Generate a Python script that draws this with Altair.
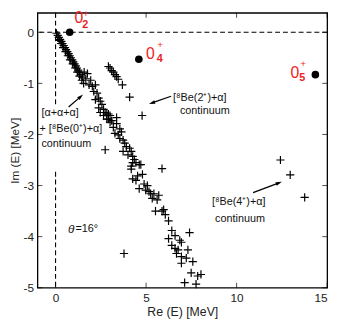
import altair as alt
import pandas as pd

# ---------------- data ----------------
cross_re = [
    # dense rotated continuum near origin
    0.05, 0.12, 0.18, 0.25, 0.32, 0.38, 0.45, 0.52, 0.58, 0.65, 0.72, 0.78, 0.85, 0.92, 0.98, 1.05,
    1.12, 1.18, 1.25, 1.32, 1.40, 1.48,
    0.20, 0.30, 0.42, 0.55, 0.68, 0.80, 0.95, 1.08, 1.20, 1.32, 1.45, 1.55,
    # band 1.5 - 3
    1.58, 1.76, 1.67, 1.94, 1.85, 2.03, 2.20, 2.11, 2.29, 2.38, 2.20, 2.47, 2.56, 2.38, 2.65, 2.74,
    2.83, 3.01, 2.92, 2.65, 3.10, 2.47,
    # band 2.6 - 4.7
    2.65, 2.92, 3.37, 2.83, 3.01, 3.37, 3.19, 3.55, 3.28, 3.46, 3.64, 3.55, 3.73, 3.82, 3.91, 4.09,
    3.73, 4.18, 4.00, 4.26, 4.35, 4.44, 4.18, 4.71,
    # band 4.2 - 6.1
    4.26, 4.62, 4.18, 4.80, 4.53, 4.26, 4.44, 4.89, 5.07, 4.62, 4.98, 5.16, 5.25, 5.43, 5.70, 5.34,
    5.61, 5.52, 5.88, 6.06, 5.97,
    # band 6.2 - 8
    6.24, 6.42, 6.60, 6.24, 6.86, 6.95, 7.40, 6.42, 6.60, 6.77, 6.68, 7.31, 6.95, 7.22, 6.95, 7.58,
    7.49, 7.85, 8.03, 7.13, 7.76,
    # 8Be(2+)+alpha branch
    2.92, 3.01, 3.10, 3.19, 3.28, 3.37, 3.46, 3.69, 4.09, 4.78,
    # isolated
    2.74, 5.88, 3.78,
    # 8Be(4+)+alpha
    12.42, 12.96, 13.76,
]
cross_im = [
    -0.02, -0.06, -0.10, -0.14, -0.18, -0.22, -0.26, -0.30, -0.34, -0.38, -0.42, -0.46, -0.50, -0.54, -0.58, -0.62,
    -0.66, -0.70, -0.74, -0.78, -0.83, -0.88,
    -0.16, -0.22, -0.30, -0.38, -0.46, -0.54, -0.62, -0.70, -0.78, -0.86, -0.94, -1.00,
    -0.78, -0.81, -0.91, -0.94, -1.03, -1.06, -1.03, -1.16, -1.19, -1.29, -1.32, -1.35, -1.41, -1.48, -1.51, -1.57,
    -1.60, -1.63, -1.70, -1.63, -1.73, -1.57,
    -1.57, -1.60, -1.67, -1.70, -1.76, -1.79, -1.86, -1.89, -1.98, -2.01, -1.95, -2.08, -2.11, -2.17, -2.24, -2.27,
    -2.33, -2.33, -2.40, -2.43, -2.49, -2.55, -2.62, -2.59,
    -2.55, -2.59, -2.68, -2.78, -2.81, -2.87, -2.90, -2.97, -3.00, -3.06, -3.09, -3.12, -3.16, -3.16, -3.19, -3.25,
    -3.28, -3.50, -3.50, -3.57, -3.47,
    -3.69, -3.88, -3.98, -4.04, -4.07, -4.11, -3.92, -4.17, -4.23, -4.26, -4.33, -4.26, -4.39, -4.42, -4.52, -4.49,
    -4.71, -4.77, -4.74, -4.90, -4.93,
    -0.67, -0.70, -0.75, -0.78, -0.83, -0.87, -0.92, -1.03, -1.27, -1.63,
    -2.30, -2.67, -4.33,
    -2.50, -2.79, -3.23,
]

state_re = [0.78, 4.60, 14.35]
state_im = [0.00, -0.53, -0.83]
state_main = ["0", "0", "0"]
state_sub = ["2", "4", "5"]
state_main_re = [1.29, 5.23, 13.22]
state_main_im = [0.27, -0.42, -0.79]
state_sub_re = [1.64, 5.75, 13.62]
state_sub_im = [0.15, -0.53, -0.90]
state_sup_re = [1.67, 5.77, 13.67]
state_sup_im = [0.36, -0.26, -0.63]

x_ticks = [0, 5, 10, 15]
y_ticks = [0, -1, -2, -3, -4, -5]

note_text = ["[\u03b1+\u03b1+\u03b1]", "+ [\u2078Be(0\u207a)+\u03b1]", "continuum",
             "[\u2078Be(2\u207a)+\u03b1]", "continuum",
             "[\u2078Be(4\u207a)+\u03b1]", "continuum", "=16\u00b0"]
note_re = [-0.78, -0.89, -0.78, 6.49, 6.87, 8.64, 8.81, 1.10]
note_im = [-1.58, -1.89, -2.19, -1.29, -1.54, -3.33, -3.66, -3.85]

arrow_re = [0.72, 6.38, 10.91]
arrow_im = [-1.465, -1.253, -3.137]
arrow_re2 = [1.39, 5.32, 12.34]
arrow_im2 = [-1.26, -1.384, -2.948]
arrow_angle = [49, 251, 70]

vline_y = [0.38, -2.73]
vline_y2 = [-1.41, -5.0]

# ---------------- chart ----------------
W, H = 295, 280
FONT = "Liberation Sans"
RED = "#ee1c25"
xs = alt.Scale(domain=[-1, 15], nice=False, zero=False)
ys = alt.Scale(domain=[-5, 0.38], nice=False, zero=False)

crosses = pd.DataFrame({"re": cross_re, "im": cross_im})
states = pd.DataFrame({"re": state_re, "im": state_im})
labels = pd.DataFrame({"t": state_main, "re": state_main_re, "im": state_main_im,
                       "s": state_sub, "sre": state_sub_re, "sim": state_sub_im,
                       "pre": state_sup_re, "pim": state_sup_im})
notes = pd.DataFrame({"t": note_text, "re": note_re, "im": note_im})
arrows = pd.DataFrame({"re": arrow_re, "im": arrow_im, "re2": arrow_re2, "im2": arrow_im2,
                       "ang": arrow_angle})
xt = pd.DataFrame({"v": x_ticks})
yt = pd.DataFrame({"v": y_ticks})
vl = pd.DataFrame({"x": [0, 0], "y": vline_y, "y2": vline_y2})
hl = pd.DataFrame({"y": [0]})

cross_path = "M-1,0L1,0M0,-1L0,1"
head_path = "M0,-1L0.6,1L-0.6,1Z"

points = alt.Chart(crosses).mark_point(shape=cross_path, filled=False, color="black",
                                       strokeWidth=1.2, size=70, opacity=1).encode(
    x=alt.X("re:Q", scale=xs, axis=alt.Axis(values=x_ticks, ticks=False, domain=False, grid=False,
                                             title="Re (E) [MeV]", labelPadding=5, titlePadding=2,
                                             labelFontSize=12, titleFontSize=12.5, labelFont=FONT,
                                             titleFont=FONT, titleFontWeight="normal",
                                             labelColor="#222", titleColor="#222")),
    y=alt.Y("im:Q", scale=ys, axis=alt.Axis(values=y_ticks, ticks=False, domain=False, grid=False,
                                             title="Im (E) [MeV]", labelPadding=4, titlePadding=2,
                                             labelExpr="'' + datum.value",
                                             labelFontSize=12, titleFontSize=12, labelFont=FONT,
                                             titleFont=FONT, titleFontWeight="normal",
                                             labelColor="#222", titleColor="#222")),
)

hdash = alt.Chart(hl).mark_rule(color="black", strokeDash=[5, 3], strokeWidth=1.1).encode(
    y=alt.Y("y:Q", scale=ys))
vdash = alt.Chart(vl).mark_rule(color="black", strokeDash=[5, 3], strokeWidth=1.1).encode(
    x=alt.X("x:Q", scale=xs), y=alt.Y("y:Q", scale=ys), y2="y2:Q")

circles = alt.Chart(states).mark_point(shape="circle", filled=True, color="black", size=60,
                                       opacity=1).encode(
    x=alt.X("re:Q", scale=xs), y=alt.Y("im:Q", scale=ys))

lab0 = alt.Chart(labels).mark_text(color=RED, fontSize=16, font=FONT).encode(
    x=alt.X("re:Q", scale=xs), y=alt.Y("im:Q", scale=ys), text="t:N")
labsub = alt.Chart(labels).mark_text(color=RED, fontSize=11, font=FONT, fontWeight="bold").encode(
    x=alt.X("sre:Q", scale=xs), y=alt.Y("sim:Q", scale=ys), text="s:N")
labsup = alt.Chart(labels).mark_text(color=RED, fontSize=10, font=FONT, text="+").encode(
    x=alt.X("pre:Q", scale=xs), y=alt.Y("pim:Q", scale=ys))

note = alt.Chart(notes).mark_text(align="left", fontSize=11, font=FONT, color="#111").encode(
    x=alt.X("re:Q", scale=xs), y=alt.Y("im:Q", scale=ys), text="t:N")
theta = alt.Chart(notes.iloc[[7]]).mark_text(align="right", fontSize=12, font=FONT,
                                              fontStyle="italic", color="#111", text="\u03b8",
                                              dx=-1).encode(
    x=alt.X("re:Q", scale=xs), y=alt.Y("im:Q", scale=ys))

arr_line = alt.Chart(arrows).mark_rule(color="black", strokeWidth=1.3).encode(
    x=alt.X("re:Q", scale=xs), y=alt.Y("im:Q", scale=ys), x2="re2:Q", y2="im2:Q")
arr_head = alt.Chart(arrows).mark_point(shape=head_path, filled=True, color="black", size=40,
                                        opacity=1).encode(
    x=alt.X("re2:Q", scale=xs), y=alt.Y("im2:Q", scale=ys),
    angle=alt.Angle("ang:Q", scale=None))

tick_l = alt.Chart(yt).mark_tick(orient="horizontal", size=5, thickness=1, color="black").encode(
    y=alt.Y("v:Q", scale=ys), x=alt.value(2.5))
tick_r = alt.Chart(yt).mark_tick(orient="horizontal", size=5, thickness=1, color="black").encode(
    y=alt.Y("v:Q", scale=ys), x=alt.value(W - 2.5))
tick_t = alt.Chart(xt).mark_tick(orient="vertical", size=5, thickness=1, color="black").encode(
    x=alt.X("v:Q", scale=xs), y=alt.value(2.5))
tick_b = alt.Chart(xt).mark_tick(orient="vertical", size=5, thickness=1, color="black").encode(
    x=alt.X("v:Q", scale=xs), y=alt.value(H - 2.5))

chart = alt.layer(
    points, hdash, vdash, circles, lab0, labsub, labsup, note, theta, arr_line, arr_head,
    tick_l, tick_r, tick_t, tick_b
).properties(
    width=W, height=H,
    autosize=alt.AutoSizeParams(type="none"),
    padding={"left": 30, "top": 2, "right": 8, "bottom": 34},
    background="white",
).configure_view(stroke="black", strokeWidth=1.3)

chart.save("out.html", embed_options={"renderer": "svg", "actions": False})
